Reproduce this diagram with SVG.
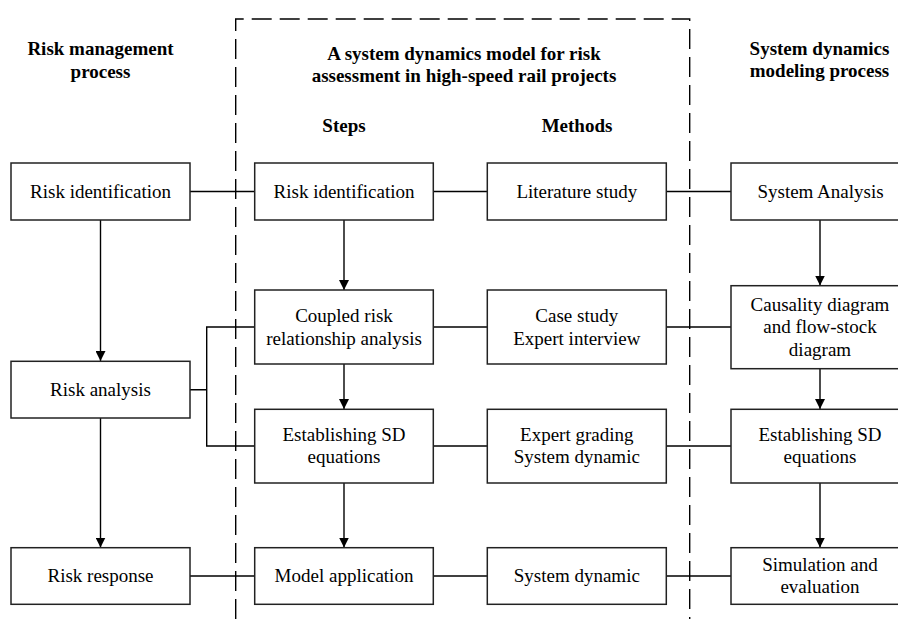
<svg xmlns="http://www.w3.org/2000/svg" width="898" height="619" viewBox="0 0 898 619">
<defs>
<marker id="ah" markerWidth="10" markerHeight="10" refX="10" refY="5" orient="auto" markerUnits="userSpaceOnUse">
<path d="M0,0 L10,5 L0,10 Z" fill="#000"/>
</marker>
<style>
.box{fill:#fff;stroke:#222;stroke-width:1.5}
.t{font-family:"Liberation Serif","Times New Roman",serif;font-size:19px;fill:#000;text-anchor:middle}
.h{font-family:"Liberation Serif","Times New Roman",serif;font-size:19px;font-weight:bold;fill:#000;text-anchor:middle}
.ln{fill:none;stroke:#000;stroke-width:1.4}
.ar{fill:none;stroke:#000;stroke-width:1.4;marker-end:url(#ah)}
.dash{fill:none;stroke:#000;stroke-width:1.4;stroke-dasharray:20 8}
</style>
</defs>
<rect width="898" height="619" fill="#fff"/>

<g id="frame">
<path class="dash" d="M235.7,619 L235.7,19 L689.7,19 L689.7,619"/>
</g>

<g id="headings">
<text class="h" x="100.5" y="55">Risk management</text>
<text class="h" x="100.5" y="78">process</text>
<text class="h" x="464" y="59.5">A system dynamics model for risk</text>
<text class="h" x="464" y="82">assessment in high-speed rail projects</text>
<text class="h" x="344" y="131.5">Steps</text>
<text class="h" x="577" y="131.5">Methods</text>
<text class="h" x="819.5" y="54.5">System dynamics</text>
<text class="h" x="819.5" y="77">modeling process</text>
</g>

<g id="connectors">
<line class="ar" x1="100.5" y1="220" x2="100.5" y2="361"/>
<line class="ar" x1="100.5" y1="418" x2="100.5" y2="547.5"/>
<line class="ar" x1="344" y1="220" x2="344" y2="290"/>
<line class="ar" x1="344" y1="364" x2="344" y2="409"/>
<line class="ar" x1="344" y1="483" x2="344" y2="547.5"/>
<line class="ar" x1="820" y1="220" x2="820" y2="285.5"/>
<line class="ar" x1="820" y1="368.5" x2="820" y2="409"/>
<line class="ar" x1="820" y1="483" x2="820" y2="547.5"/>
<line class="ln" x1="190" y1="191.5" x2="254.7" y2="191.5"/>
<line class="ln" x1="433.3" y1="191.5" x2="487.3" y2="191.5"/>
<line class="ln" x1="666.3" y1="191.5" x2="731" y2="191.5"/>
<path class="ln" d="M190,389.7 H206.7 M254.7,327 H206.7 V446 H254.7"/>
<line class="ln" x1="433.3" y1="327" x2="487.3" y2="327"/>
<line class="ln" x1="666.3" y1="327" x2="731" y2="327"/>
<line class="ln" x1="433.3" y1="446" x2="487.3" y2="446"/>
<line class="ln" x1="666.3" y1="446" x2="731" y2="446"/>
<line class="ln" x1="190" y1="576" x2="254.7" y2="576"/>
<line class="ln" x1="433.3" y1="576" x2="487.3" y2="576"/>
<line class="ln" x1="666.3" y1="576" x2="731" y2="576"/>
</g>

<g id="rm-identification"><rect class="box" x="11" y="163" width="179" height="57"/><text class="t" x="100.5" y="197.5">Risk identification</text></g>
<g id="rm-analysis"><rect class="box" x="11" y="361.3" width="179" height="56.7"/><text class="t" x="100.5" y="395.7">Risk analysis</text></g>
<g id="rm-response"><rect class="box" x="11" y="547.7" width="179" height="56.6"/><text class="t" x="100.5" y="582">Risk response</text></g>

<g id="st-identification"><rect class="box" x="254.7" y="163" width="178.6" height="57"/><text class="t" x="344" y="197.5">Risk identification</text></g>
<g id="st-coupled"><rect class="box" x="254.7" y="290" width="178.6" height="74"/><text class="t" x="344" y="322">Coupled risk</text><text class="t" x="344" y="344.6">relationship analysis</text></g>
<g id="st-equations"><rect class="box" x="254.7" y="409.3" width="178.6" height="73.7"/><text class="t" x="344" y="440.7">Establishing SD</text><text class="t" x="344" y="463.3">equations</text></g>
<g id="st-application"><rect class="box" x="254.7" y="547.7" width="178.6" height="56.6"/><text class="t" x="344" y="582">Model application</text></g>

<g id="me-literature"><rect class="box" x="487.3" y="163" width="179" height="57"/><text class="t" x="576.8" y="197.5">Literature study</text></g>
<g id="me-case"><rect class="box" x="487.3" y="290" width="179" height="74"/><text class="t" x="576.8" y="322">Case study</text><text class="t" x="576.8" y="344.6">Expert interview</text></g>
<g id="me-grading"><rect class="box" x="487.3" y="409.3" width="179" height="73.7"/><text class="t" x="576.8" y="440.7">Expert grading</text><text class="t" x="576.8" y="463.3">System dynamic</text></g>
<g id="me-sd"><rect class="box" x="487.3" y="547.7" width="179" height="56.6"/><text class="t" x="576.8" y="582">System dynamic</text></g>

<g id="sd-analysis"><rect class="box" x="731" y="163" width="179" height="57"/><text class="t" x="820.5" y="197.5">System Analysis</text></g>
<g id="sd-causality"><rect class="box" x="731" y="285.7" width="179" height="83"/><text class="t" x="820" y="310.8">Causality diagram</text><text class="t" x="820" y="333.4">and flow-stock</text><text class="t" x="820" y="356">diagram</text></g>
<g id="sd-equations"><rect class="box" x="731" y="409.3" width="179" height="73.7"/><text class="t" x="820" y="440.7">Establishing SD</text><text class="t" x="820" y="463.3">equations</text></g>
<g id="sd-simulation"><rect class="box" x="731" y="547.7" width="179" height="56.6"/><text class="t" x="820" y="570.7">Simulation and</text><text class="t" x="820" y="593.3">evaluation</text></g>
</svg>
